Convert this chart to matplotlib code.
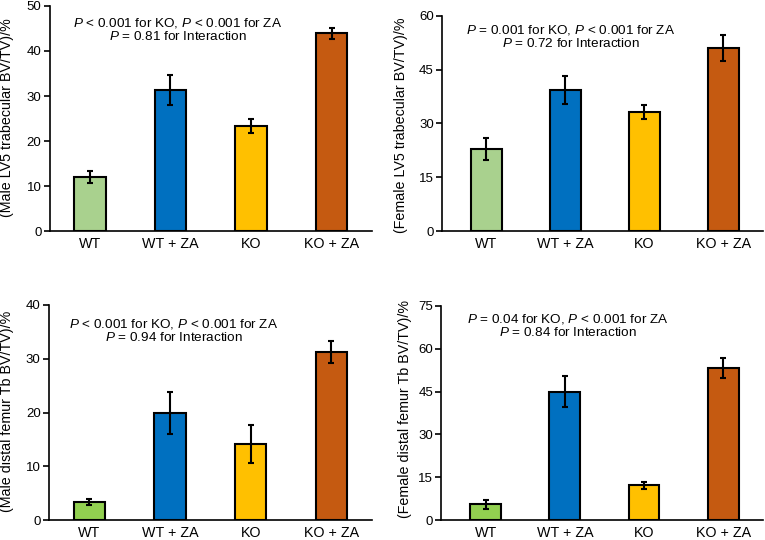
import matplotlib
matplotlib.use("Agg")
import matplotlib.pyplot as plt

plt.rcParams['font.family'] = ['Liberation Sans', 'DejaVu Sans']
plt.rcParams['mathtext.fontset'] = 'custom'
plt.rcParams['mathtext.it'] = 'Liberation Sans:italic'
plt.rcParams['mathtext.rm'] = 'Liberation Sans'

categories = ["WT", "WT + ZA", "KO", "KO + ZA"]

male_lv5 = [12.0, 31.3, 23.3, 43.9]
male_lv5_err = [1.4, 3.4, 1.5, 1.2]
female_lv5 = [22.8, 39.3, 33.1, 50.9]
female_lv5_err = [3.0, 3.8, 1.9, 3.6]
male_femur = [3.4, 19.9, 14.2, 31.2]
male_femur_err = [0.5, 3.9, 3.5, 2.0]
female_femur = [5.6, 45.0, 12.3, 53.3]
female_femur_err = [1.6, 5.3, 1.2, 3.5]

colors_top = ["#A9D18E", "#0070C0", "#FFC000", "#C55A11"]
colors_bottom = ["#92D050", "#0070C0", "#FFC000", "#C55A11"]

panels = [
    dict(vals=male_lv5, err=male_lv5_err, colors=colors_top,
         rect=[0.065, 0.572, 0.421, 0.417], ymax=50, yticks=[0, 10, 20, 30, 40, 50],
         ylabel="(Male LV5 trabecular BV/TV)/%",
         txt=r"$P$ < 0.001 for KO, $P$ < 0.001 for ZA" + "\n" + r"$P$ = 0.81 for Interaction",
         tx=0.397, ty=0.896, lx=-0.112, ly=0.505, xlim=(-0.5, 3.5)),
    dict(vals=female_lv5, err=female_lv5_err, colors=colors_top,
         rect=[0.578, 0.572, 0.419, 0.399], ymax=60, yticks=[0, 15, 30, 45, 60],
         ylabel="(Female LV5 trabecular BV/TV)/%",
         txt=r"$P$ = 0.001 for KO, $P$ < 0.001 for ZA" + "\n" + r"$P$ = 0.72 for Interaction",
         tx=0.402, ty=0.905, lx=-0.106, ly=0.49, xlim=(-0.56, 3.5)),
    dict(vals=male_femur, err=male_femur_err, colors=colors_bottom,
         rect=[0.064, 0.0365, 0.422, 0.399], ymax=40, yticks=[0, 10, 20, 30, 40],
         ylabel="(Male distal femur Tb BV/TV)/%",
         txt=r"$P$ < 0.001 for KO, $P$ < 0.001 for ZA" + "\n" + r"$P$ = 0.94 for Interaction",
         tx=0.387, ty=0.879, lx=-0.108, ly=0.504, xlim=(-0.5, 3.5)),
    dict(vals=female_femur, err=female_femur_err, colors=colors_bottom,
         rect=[0.577, 0.0365, 0.42, 0.3975], ymax=75, yticks=[0, 15, 30, 45, 60, 75],
         ylabel="(Female distal femur Tb BV/TV)/%",
         txt=r"$P$ = 0.04 for KO, $P$ < 0.001 for ZA" + "\n" + r"$P$ = 0.84 for Interaction",
         tx=0.393, ty=0.909, lx=-0.093, ly=0.519, xlim=(-0.56, 3.5)),
]

fig = plt.figure(figsize=(7.65, 5.4), dpi=100)
for p in panels:
    ax = fig.add_axes(p["rect"])
    x = list(range(len(categories)))
    ax.bar(x, p["vals"], width=0.39, color=p["colors"], edgecolor="black", linewidth=1.5, zorder=2)
    ax.errorbar(x, p["vals"], yerr=p["err"], fmt="none", ecolor="black", elinewidth=1.5,
                capsize=2.5, capthick=1.5, zorder=3)
    ax.set_xlim(*p["xlim"])
    ax.set_ylim(0, p["ymax"])
    ax.set_yticks(p["yticks"])
    ax.set_xticks(x)
    ax.set_xticklabels(categories, fontsize=10.3)
    ax.tick_params(axis="x", length=0, pad=4)
    ax.tick_params(axis="y", length=4, width=1.2, labelsize=9.5, pad=2)
    for s in ["top", "right"]:
        ax.spines[s].set_visible(False)
    for s in ["left", "bottom"]:
        ax.spines[s].set_linewidth(1.2)
    ax.set_ylabel(p["ylabel"], fontsize=10.3)
    ax.yaxis.set_label_coords(p["lx"], p["ly"])
    ax.text(p["tx"], p["ty"], p["txt"], transform=ax.transAxes, ha="center", va="center",
            multialignment="center", fontsize=9.7, linespacing=1.0)

fig.savefig("out.png", dpi=100)
